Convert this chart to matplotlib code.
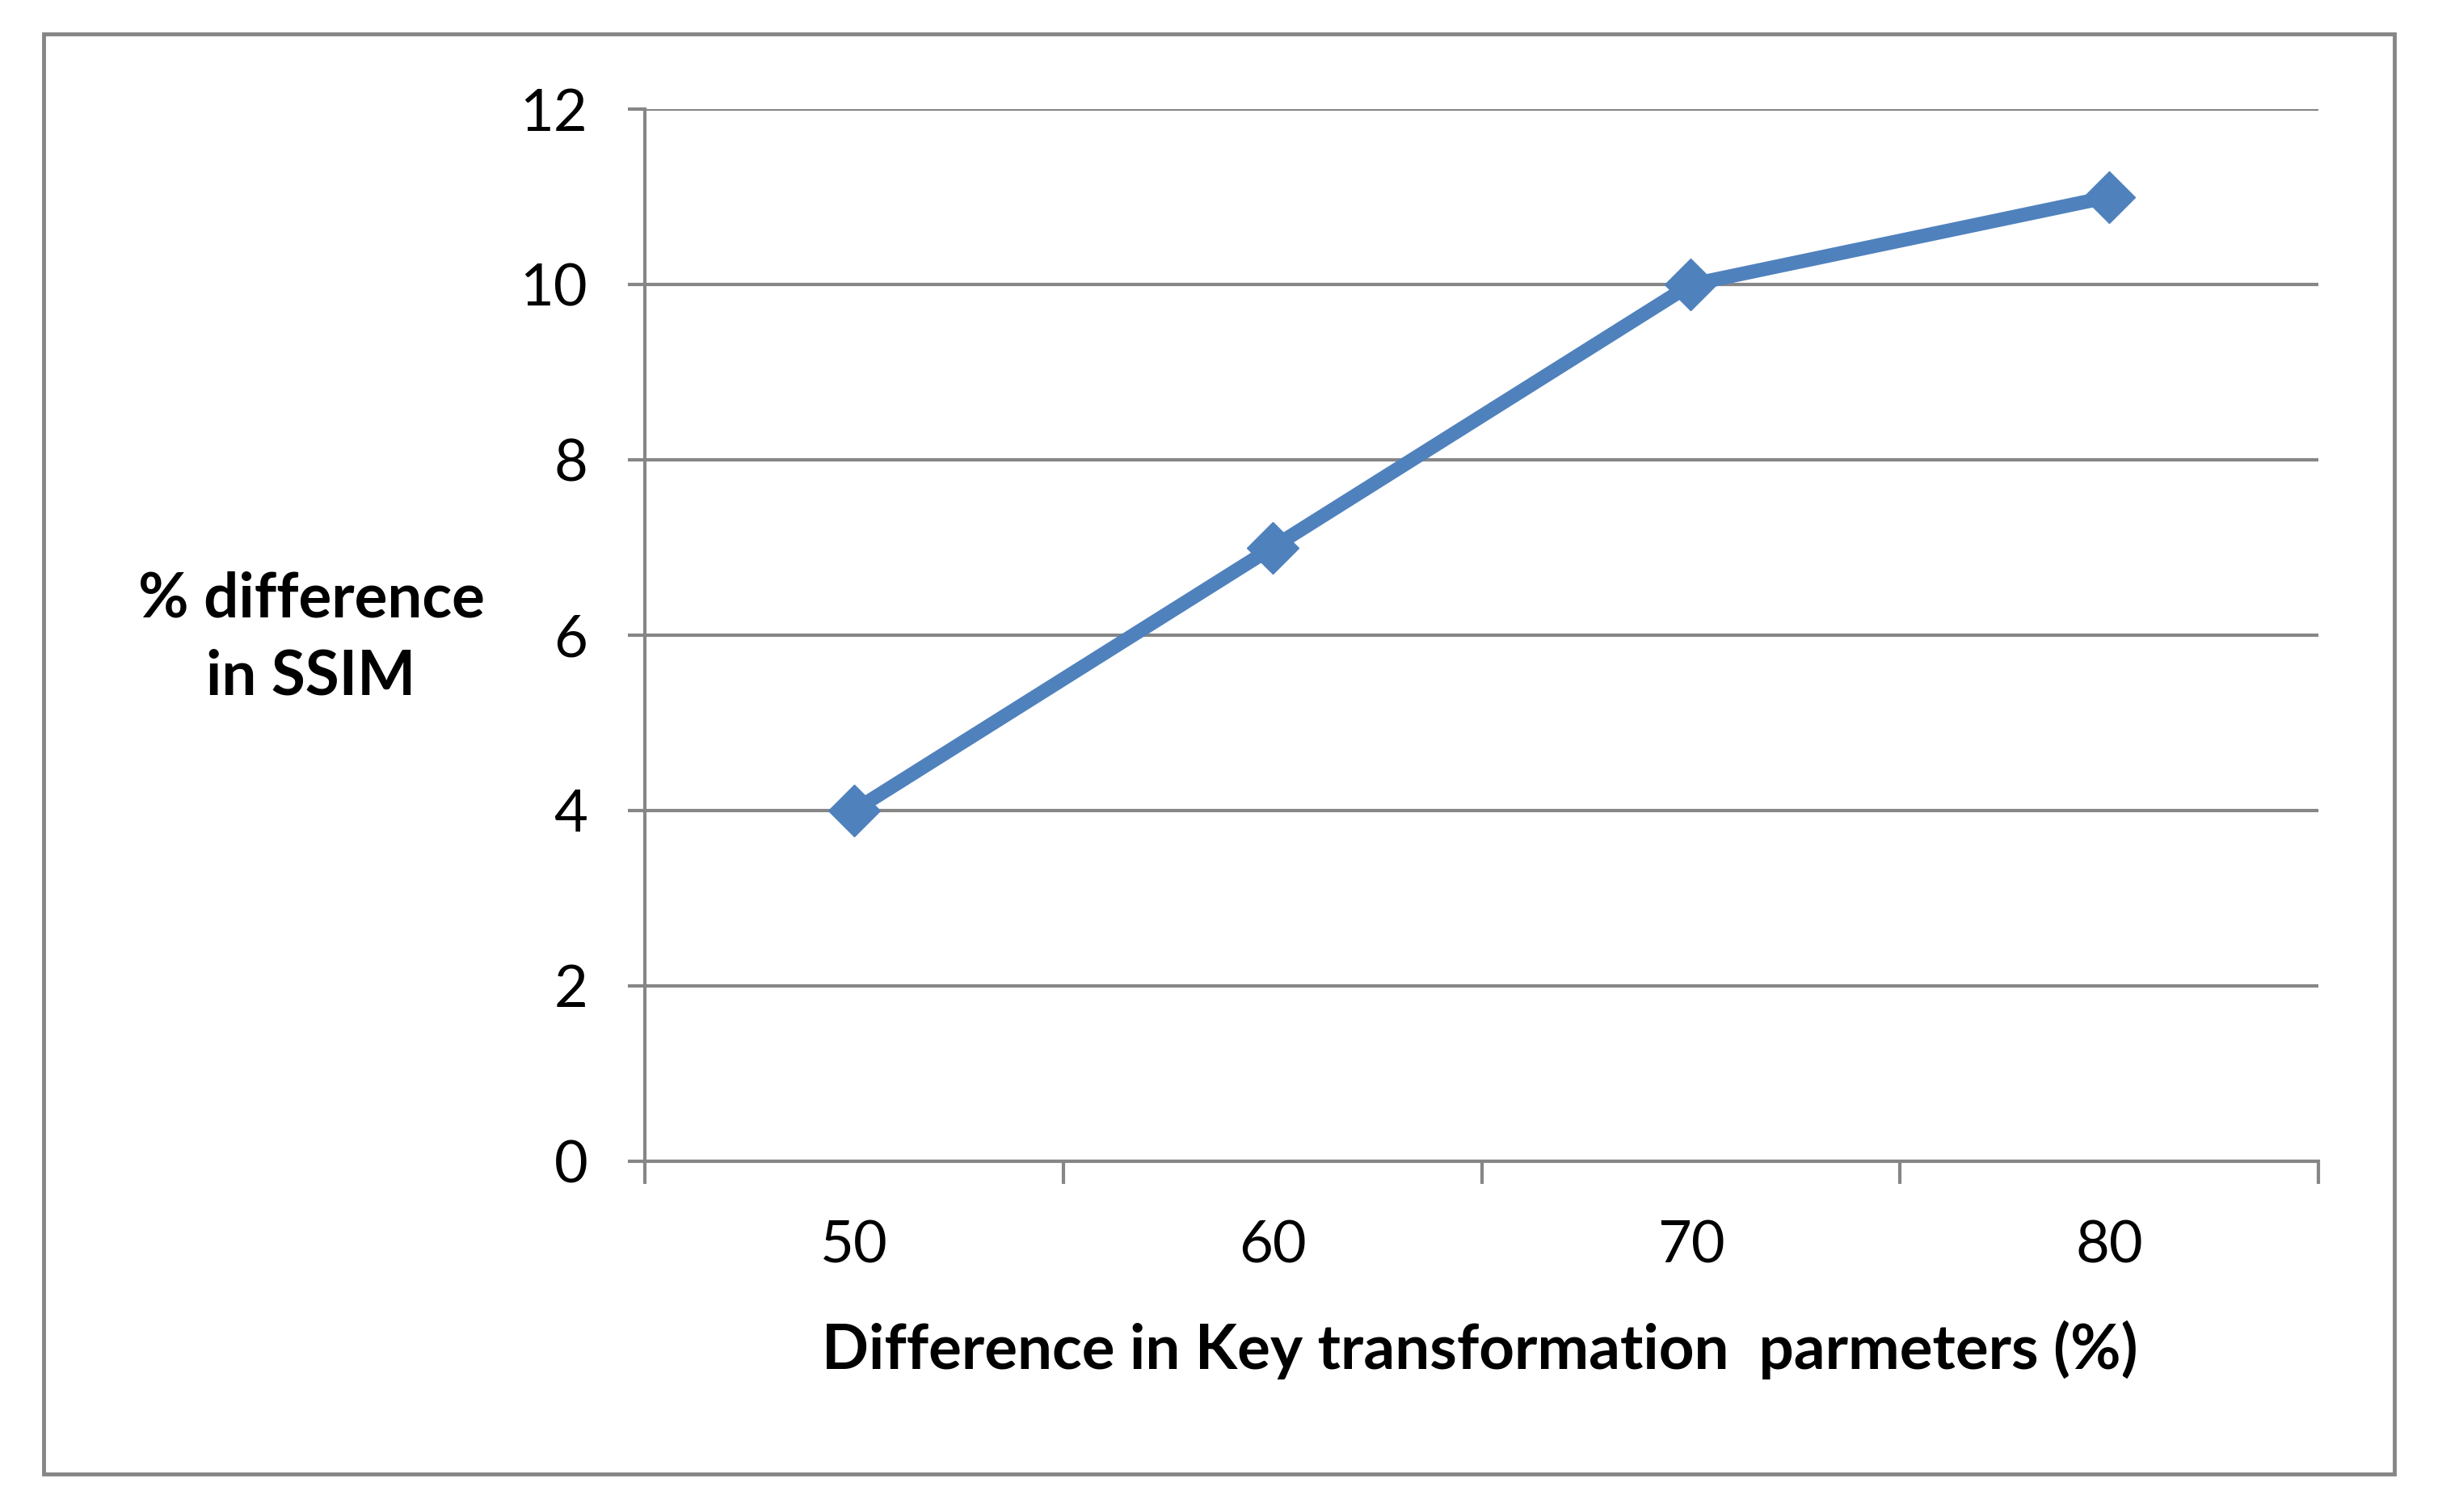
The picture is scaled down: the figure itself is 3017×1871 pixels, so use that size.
import matplotlib.pyplot as plt
from matplotlib.patches import Rectangle

# data
categories = ['50', '60', '70', '80']
ssim_diff = [4, 7, 10, 11]
y_ticks = [0, 2, 4, 6, 8, 10, 12]

grey = '#868686'
blue = '#4F81BD'
plt.rcParams['font.family'] = ['Lato', 'DejaVu Sans']

fig = plt.figure(figsize=(30.17, 18.71), dpi=100)
ax = fig.add_axes([0.2645, 0.2320, 0.951 - 0.2645, 0.9278 - 0.2320])

x = list(range(len(categories)))
ax.plot(x, ssim_diff, color=blue, lw=12.5, marker='D', ms=33, zorder=3)

ax.set_xlim(-0.5, len(categories) - 0.5)
ax.set_ylim(0, 12)
ax.set_yticks(y_ticks)
ax.set_yticklabels([str(v) for v in y_ticks])
ax.yaxis.grid(True, color=grey, lw=3)
ax.set_axisbelow(True)

# category axis: ticks on the boundaries, labels in the middle
ax.set_xticks([i - 0.5 for i in range(len(categories) + 1)])
ax.set_xticklabels([])
ax.set_xticks(x, minor=True)
ax.set_xticklabels(categories, minor=True)
ax.tick_params(axis='x', which='minor', length=0, pad=52, labelsize=52)
ax.tick_params(axis='x', which='major', length=20, width=3, color=grey)
ax.tick_params(axis='y', length=15, width=3, color=grey, pad=36, labelsize=52)

for s in ['top', 'right']:
    ax.spines[s].set_visible(False)
for s in ['left', 'bottom']:
    ax.spines[s].set_color(grey)
    ax.spines[s].set_linewidth(3)

fig.text(0.1276, 0.578, '% difference\nin SSIM', ha='center', va='center',
         fontsize=55, fontweight='bold', linespacing=1.45)
fig.text(0.607, 0.107, 'Difference in Key transformation  parmeters (%)',
         ha='center', va='center', fontsize=55, fontweight='bold')

# outer chart frame
fig.patches.append(Rectangle((54 / 3017, 1 - 1824 / 1871), (2963 - 54) / 3017,
                             (1824 - 42) / 1871, transform=fig.transFigure,
                             fill=False, edgecolor=grey, lw=3.5))

fig.savefig('out.png', dpi=100)
